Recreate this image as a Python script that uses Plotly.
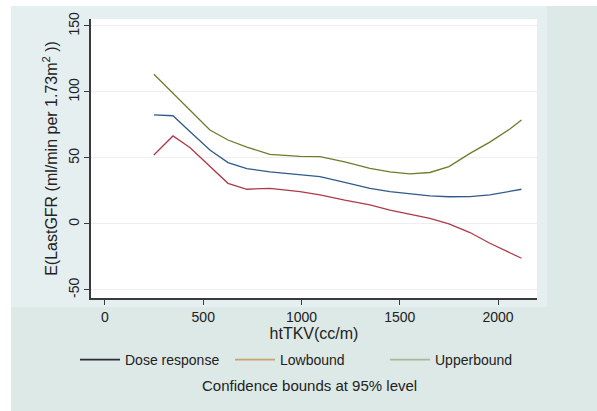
import plotly.graph_objects as go

# Data
httkv = [249, 346, 432, 534, 626, 722, 839, 992, 1094, 1220, 1348, 1450, 1551, 1653, 1750, 1857, 1958, 2060, 2119]
dose_response = [82.6, 82.0, 70.0, 56.0, 46.5, 42.0, 39.5, 37.5, 35.8, 31.5, 27.0, 24.5, 22.7, 21.3, 20.6, 20.7, 22.0, 24.5, 26.3]
lowbound = [52.3, 66.7, 58.0, 43.4, 30.8, 26.3, 27.0, 24.5, 22.0, 18.0, 14.4, 10.5, 7.3, 4.3, 0.0, -6.5, -14.6, -21.5, -26.0]
upperbound = [113.4, 99.0, 86.4, 71.2, 63.6, 58.2, 52.8, 51.2, 51.0, 47.0, 42.2, 39.5, 37.9, 39.0, 43.5, 53.5, 62.0, 72.0, 78.8]

x_ticks = [0, 500, 1000, 1500, 2000]
y_ticks = [-50, 0, 50, 100, 150]

series_names = ["Dose response", "Lowbound", "Upperbound"]
line_colors = ["#2f5b8a", "#ad3a4a", "#6c7c2c"]
legend_colors = ["#2a2d35", "#c9a070", "#a9b89a"]

FONT = "Liberation Sans, Arial, sans-serif"

fig = go.Figure()
for name, ys, col in zip(series_names, [dose_response, lowbound, upperbound], line_colors):
    fig.add_trace(go.Scatter(x=httkv, y=ys, mode="lines", name=name,
                             line=dict(color=col, width=1.3), showlegend=False))
for name, col in zip(series_names, legend_colors):
    fig.add_trace(go.Scatter(x=[None], y=[None], mode="lines", name=name,
                             line=dict(color=col, width=1.6), showlegend=True))

W, H = 597, 411
L, R, T, B = 91, 537, 19, 298
pw, ph = R - L, B - T

def px(xp):
    return (xp - L) / pw

def py(yp):
    return (B - yp) / ph

shapes = [
    dict(type="rect", xref="paper", yref="paper", x0=px(11), x1=px(597), y0=py(411), y1=py(6),
         fillcolor="#dde9e6", line=dict(width=0), layer="below"),
    dict(type="rect", xref="paper", yref="paper", x0=px(11), x1=px(547), y0=py(307), y1=py(6),
         fillcolor="#e5eff0", line=dict(width=0), layer="below"),
    dict(type="rect", xref="paper", yref="paper", x0=0, x1=1, y0=0, y1=1,
         fillcolor="white", line=dict(width=0), layer="below"),
]

fig.update_layout(
    width=W, height=H,
    margin=dict(l=L, r=W - R, t=T, b=H - B, autoexpand=False),
    paper_bgcolor="white", plot_bgcolor="rgba(0,0,0,0)",
    font=dict(family=FONT, size=14, color="#222222"),
    shapes=shapes,
    showlegend=True,
    legend=dict(orientation="h", x=px(75), y=py(344), xanchor="left", yanchor="top",
                bgcolor="rgba(0,0,0,0)", font=dict(size=14, color="#222222"),
                itemwidth=40, entrywidth=100, entrywidthmode="pixels", tracegroupgap=0),
    annotations=[dict(text="Confidence bounds at 95% level", xref="paper", yref="paper",
                      x=px(309), y=py(386), showarrow=False, xanchor="center", yanchor="middle",
                      font=dict(size=15, color="#222222"))],
)

fig.update_xaxes(range=[-71, 2198], tickvals=x_ticks, ticktext=[str(v) for v in x_ticks],
                 showgrid=False, zeroline=False, showline=True, linecolor="#3a3a3a", linewidth=1.5,
                 ticks="outside", ticklen=5, tickcolor="#3a3a3a", automargin=False,
                 title=dict(text="htTKV(cc/m)", font=dict(size=16), standoff=0),
                 tickfont=dict(size=14))
fig.update_yaxes(range=[-56.1, 155.3], tickvals=y_ticks, ticktext=[str(v) for v in y_ticks],
                 showgrid=True, gridcolor="#eeeeee", gridwidth=1, zeroline=False,
                 showline=True, linecolor="#3a3a3a", linewidth=1.5, automargin=False,
                 ticks="outside", ticklen=5, tickcolor="#3a3a3a", tickangle=-90,
                 title=dict(text="E(LastGFR (ml/min per 1.73m<sup>2</sup> ))", font=dict(size=16), standoff=4),
                 tickfont=dict(size=14))

fig.write_html("out.html", config={"displayModeBar": False},
               post_script="document.body.style.margin='0px';")
